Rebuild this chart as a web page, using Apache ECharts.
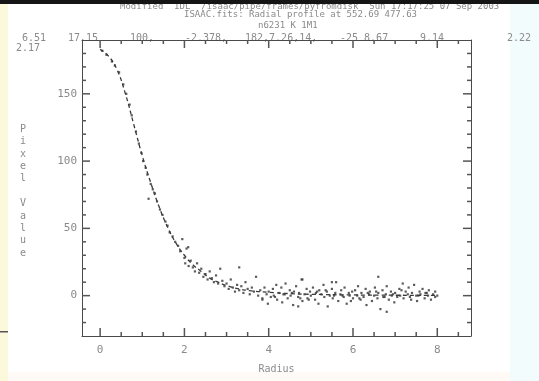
<!DOCTYPE html>
<html><head><meta charset="utf-8">
<script src="https://cdn.jsdelivr.net/npm/echarts@6/dist/echarts.min.js"></script>
<style>html,body{margin:0;padding:0;background:#fff}#c{width:539px;height:381px}</style>
</head><body><div id="c"></div>
<script>
// ---- data ----
const fitRadius = [0,0.2,0.4,0.6,0.8,1.0,1.2,1.4,1.6,1.8,2.0,2.2,2.4,2.6,2.8,3.0,3.3,3.6,4.0,4.5,5.0,6.0,7.0,8.0];
const fitValue  = [183,178,168,150,127,104,84,66,51,39,30,23,18,13,10,7.5,5,3.5,2.5,1.5,1,0.5,0.3,0.2];

const ptRadius = [
 0.05,0.15,0.28,0.35,0.45,0.55,0.62,0.7,0.75,0.85,0.92,0.98,1.02,1.08,1.12,1.15,1.2,1.25,1.3,1.35,1.42,1.48,1.55,1.6,1.65,1.72,1.78,1.85,1.9,1.95,
 2.0,2.02,2.05,2.09,2.1,2.15,2.2,2.25,2.3,2.35,2.4,2.45,2.5,2.55,2.6,2.65,2.7,2.75,2.8,2.85,2.9,2.95,3.0,
 3.05,3.1,3.15,3.2,3.25,3.3,3.3,3.35,3.4,3.45,3.5,3.55,3.6,3.65,3.7,3.75,3.8,3.85,3.85,3.9,3.95,3.98,
 4.0,4.05,4.1,4.12,4.18,4.2,4.25,4.3,4.32,4.38,4.4,4.45,4.5,4.52,4.58,4.6,4.65,4.7,4.7,4.72,4.78,4.8,4.8,4.85,4.9,4.92,4.98,
 5.0,5.05,5.1,5.12,5.18,5.2,5.25,5.3,5.32,5.38,5.4,5.45,5.5,5.5,5.52,5.58,5.6,5.65,5.7,5.72,5.78,5.8,5.85,5.9,5.92,5.98,
 6.0,6.05,6.1,6.12,6.18,6.2,6.25,6.3,6.32,6.38,6.4,6.45,6.5,6.52,6.58,6.6,6.6,6.65,6.7,6.72,6.78,6.8,6.8,6.85,6.9,6.92,6.98,
 7.0,7.05,7.1,7.12,7.18,7.2,7.25,7.3,7.32,7.38,7.4,7.45,7.5,7.52,7.58,7.6,7.65,7.7,7.72,7.78,7.8,7.85,7.9,7.95,8.0,
 4.15,4.55,4.95,5.35,5.75,6.15,6.55,6.95,7.35,7.75,4.35,4.75,5.15,5.55,5.95,6.35,6.75,7.15,7.55,7.95
];
const ptValue = [
 182,179,174,171,166,157,150,142,134,122,113,106,100,95,90,72,83,79,76,70,64,60,55,52,47,44,40,37,33,42,
 28,24,35,36,22,26,21,18,24,17,20,14,16,12,18,13,10,15,9,20,11,7,9,
 5,12,6,3,8,4,21,7,2,10,5,1,6,3,14,0,4,-2,-3,6,1,-6,
 3,-1,5,0,8,-3,2,6,-5,1,9,-2,4,0,-7,3,7,-1,-8,2,12,-4,12,1,5,-2,3,
 0,6,-3,2,-6,4,1,8,-1,3,-8,0,5,10,-2,2,10,-4,1,4,-1,6,-6,2,0,3,
 -2,4,0,7,-3,2,-1,5,-7,1,3,-4,0,6,-2,2,14,-10,4,-1,1,7,-12,-3,3,0,-5,
 2,-1,5,0,9,-2,3,1,6,-3,2,8,0,-4,3,1,5,-2,2,0,4,-3,1,3,0,
 -1,2,-3,4,0,-2,3,1,-1,2,1,-2,3,0,-4,2,-1,4,0,-1
];

// tick positions (axis values)
const xMajor = [0,2,4,6,8];
const xMinor = [0.5,1,1.5,2.5,3,3.5,4.5,5,5.5,6.5,7,7.5,8.5];
const yMajor = [0,50,100,150];
const yMinor = [-20,-10,10,20,30,40,60,70,80,90,110,120,130,140,160,170,180];

const X_MIN = -0.43, X_MAX = 8.8, Y_MIN = -30, Y_MAX = 190;
const AX = '#4a4a4a', TICK = '#555', TXT = '#8a8a8a', FONT = 'DejaVu Sans Mono';
const MAJOR_LEN = 8, MINOR_LEN = 4;

const points = ptRadius.map((r, i) => [r, ptValue[i]]);
const fit = fitRadius.map((r, i) => [r, fitValue[i]]);
// tick records: [x-position value, y-position value, axis(0=x,1=y), isMajor]
const ticks = []
  .concat(xMajor.map(v => [v, 0, 0, 1]), xMinor.map(v => [v, 0, 0, 0]))
  .concat(yMajor.map(v => [0, v, 1, 1]), yMinor.map(v => [0, v, 1, 0]));

function renderTick(params, api) {
  const isY = api.value(2) === 1, len = api.value(3) ? MAJOR_LEN : MINOR_LEN;
  const style = {stroke: TICK, lineWidth: 1.5, fill: null};
  if (!isY) {
    const v = api.value(0);
    const b = api.coord([v, Y_MIN]), t = api.coord([v, Y_MAX]);
    return {type: 'group', children: [
      {type: 'line', shape: {x1: b[0], y1: b[1], x2: b[0], y2: b[1] - len}, style: style},
      {type: 'line', shape: {x1: t[0], y1: t[1], x2: t[0], y2: t[1] + len}, style: style}
    ]};
  }
  const v = api.value(1);
  const l = api.coord([X_MIN, v]), r = api.coord([X_MAX, v]);
  return {type: 'group', children: [
    {type: 'line', shape: {x1: l[0], y1: l[1], x2: l[0] + len, y2: l[1]}, style: style},
    {type: 'line', shape: {x1: r[0], y1: r[1], x2: r[0] - len, y2: r[1]}, style: style}
  ]};
}

const lbl = {color: TXT, fontFamily: FONT, fontSize: 11};
const chart = echarts.init(document.getElementById('c'), null, {renderer: 'canvas'});
const tstyle = (s) => ({fill: TXT, font: s + 'px "' + FONT + '"'});
chart.setOption({
  animation: false,
  backgroundColor: '#ffffff',
  grid: {left: 82, right: 68, top: 40, bottom: 45, containLabel: false},
  xAxis: [
    {type: 'value', position: 'bottom', min: X_MIN, max: X_MAX,
     axisLine: {show: true, onZero: false, lineStyle: {color: AX}}, axisTick: {show: false},
     axisLabel: Object.assign({show: true, customValues: xMajor, margin: 9}, lbl),
     splitLine: {show: false}, name: 'Radius', nameLocation: 'middle', nameGap: 28,
     nameTextStyle: {color: TXT, fontFamily: FONT, fontSize: 10}},
    {type: 'value', position: 'top', min: X_MIN, max: X_MAX,
     axisLine: {show: true, onZero: false, lineStyle: {color: AX}}, axisTick: {show: false}, axisLabel: {show: false}, splitLine: {show: false}}
  ],
  yAxis: [
    {type: 'value', position: 'left', min: Y_MIN, max: Y_MAX,
     axisLine: {show: true, onZero: false, lineStyle: {color: AX}}, axisTick: {show: false},
     axisLabel: Object.assign({show: true, customValues: yMajor, margin: 5}, lbl), splitLine: {show: false}},
    {type: 'value', position: 'right', min: Y_MIN, max: Y_MAX,
     axisLine: {show: true, onZero: false, lineStyle: {color: AX}}, axisTick: {show: false}, axisLabel: {show: false}, splitLine: {show: false}}
  ],
  series: [
    {type: 'custom', data: ticks, renderItem: renderTick, xAxisIndex: 0, yAxisIndex: 0, silent: true, clip: false, z: 5},
    {type: 'line', data: fit, xAxisIndex: 0, yAxisIndex: 0, showSymbol: false, smooth: true,
     lineStyle: {color: '#3a3a3a', width: 1.3, type: [4, 3]}, silent: true},
    {type: 'scatter', data: points, xAxisIndex: 0, yAxisIndex: 0, symbol: 'rect', symbolSize: 2.2,
     itemStyle: {color: '#333'}, silent: true}
  ],
  graphic: [
    {type: 'rect', left: 0, top: 0, shape: {width: 8, height: 381}, style: {fill: '#fcf8dc'}, z: -1},
    {type: 'rect', left: 0, top: 331, shape: {width: 8, height: 1.5}, style: {fill: '#555'}, z: 1},
    {type: 'rect', left: 510, top: 0, shape: {width: 29, height: 381}, style: {fill: '#f2fcfc'}, z: -1},
    {type: 'rect', left: 8, top: 372, shape: {width: 502, height: 9}, style: {fill: '#fffaf5'}, z: -1},
    {type: 'text', left: 120, top: 2, style: Object.assign({text: 'Modified  IDL  /isaac/pipe/frames/pyfromdisk  Sun 17:17:25 07 Sep 2003'}, tstyle(9))},
    {type: 'rect', left: 0, top: 0, shape: {width: 539, height: 4}, style: {fill: '#151515'}, z: 10},
    {type: 'text', left: 184, top: 10, style: Object.assign({text: 'ISAAC.fits: Radial profile at 552.69 477.63'}, tstyle(9))},
    {type: 'text', left: 258, top: 21, style: Object.assign({text: 'n6231 K 1M1'}, tstyle(9))},
    {type: 'text', left: 22, top: 33, style: Object.assign({text: '6.51'}, tstyle(10))},
    {type: 'text', left: 68, top: 33, style: Object.assign({text: '17.15'}, tstyle(10))},
    {type: 'text', left: 130, top: 33, style: Object.assign({text: '100,'}, tstyle(10))},
    {type: 'text', left: 185, top: 33, style: Object.assign({text: '-2.378,'}, tstyle(10))},
    {type: 'text', left: 245, top: 33, style: Object.assign({text: '182,7.26,14,'}, tstyle(10))},
    {type: 'text', left: 340, top: 33, style: Object.assign({text: '-25 8.67'}, tstyle(10))},
    {type: 'text', left: 420, top: 33, style: Object.assign({text: '9.14'}, tstyle(10))},
    {type: 'text', left: 507, top: 33, style: Object.assign({text: '2.22'}, tstyle(10))},
    {type: 'text', left: 16, top: 43, style: Object.assign({text: '2.17'}, tstyle(10))},
    {type: 'text', left: 20, top: 123, style: Object.assign({text: 'Pixel Value'.split('').join('\n'), lineHeight: 12.4}, tstyle(10))}
  ]
});
</script></body></html>
